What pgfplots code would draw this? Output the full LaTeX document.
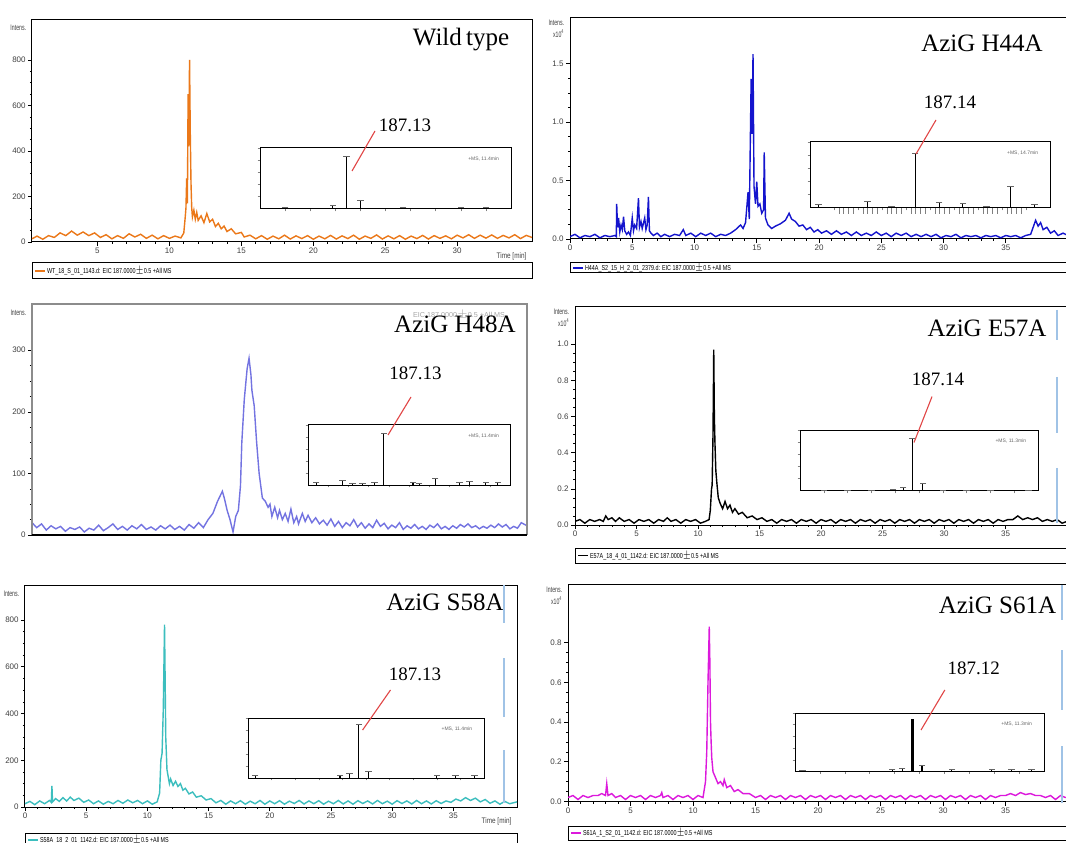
\documentclass[border=0pt]{standalone}
\usepackage{fontspec}
\setmainfont{Liberation Serif}
\setsansfont{Liberation Sans}
\usepackage{pgfplots}
\pgfplotsset{compat=1.18}

\definecolor{cOrange}{RGB}{235,120,25}
\definecolor{cBlue}{RGB}{20,20,205}
\definecolor{cSlate}{RGB}{115,115,225}
\definecolor{cTeal}{RGB}{60,190,190}
\definecolor{cMag}{RGB}{220,25,220}
\definecolor{cRed}{RGB}{225,70,70}
\definecolor{cLine}{RGB}{160,195,230}

\newcommand\ttl{\fontsize{12.5}{14}\selectfont}
\newcommand\mz{\fontsize{9.5}{11}\selectfont}
\newcommand\tkl{\fontsize{4}{4}\selectfont\sffamily}
\newcommand\lgd{\fontsize{3.6}{4}\selectfont\sffamily}

\tikzset{intens/.style={font=\tkl, text=black!75, anchor=east, xscale=0.65, inner sep=0.5pt}}

\pgfplotsset{
  chrom/.style={
    scale only axis, anchor=south west, clip mode=individual,
    axis line style={black, line width=0.5pt},
    tick align=outside, xtick pos=bottom, ytick pos=left,
    major tick length=2pt, minor tick length=1pt,
    every tick/.append style={black, line width=0.3pt},
    tick label style={font=\tkl, text=black!75},
    xticklabel style={inner sep=1pt},
    yticklabel style={inner sep=1pt},
    minor x tick num=4, minor y tick num=3,
    /pgf/number format/assume math mode=true,
    scaled y ticks=false,
  },
  sci/.style={yticklabel style={/pgf/number format/.cd, fixed, fixed zerofill, precision=1}},
  inset/.style={
    scale only axis, anchor=south west, clip=false,
    xmin=0, xmax=1, ymin=0, ymax=1,
    axis line style={black, line width=0.5pt},
    axis background/.style={fill=white},
    tick align=outside, xtick pos=bottom, ytick pos=left,
    xtick={0.1,0.2,0.3,0.4,0.5,0.6,0.7,0.8,0.9}, ytick={0.2,0.4,0.6,0.8,1.0},
    xticklabels={}, yticklabels={},
    major tick length=1.2pt, every tick/.append style={line width=0.3pt},
  },
  stick/.style={ycomb, black, line width=0.55pt, mark=-, mark size=1.6pt,
    mark options={line width=0.3pt, black!60}},
}

\begin{document}
\begin{tikzpicture}[x=0.5pt, y=0.5pt]
\path[use as bounding box, fill=white] (0,0) rectangle (1066,842);

% ---------------- Wild type ----------------
\begin{axis}[chrom, at={(16pt,300pt)}, width=250pt, height=111.5pt,
  xmin=0.45, xmax=35.2, ymin=0, ymax=980,
  xtick={5,10,15,20,25,30}, ytick={0,200,400,600,800}]
\addplot[cOrange, line width=0.7pt] coordinates {
(0.45,14)(0.8,26)(1.2,12)(1.6,28)(2.0,20)(2.4,40)(2.8,28)(3.2,48)(3.6,30)(4.0,44)
(4.4,28)(4.8,40)(5.2,20)(5.6,32)(6.0,14)(6.4,28)(6.8,16)(7.2,36)(7.6,22)(8.0,34)
(8.4,16)(8.8,30)(9.2,14)(9.6,28)(10.0,16)(10.4,26)(10.8,18)(11.0,40)(11.1,110)(11.15,150)
(11.2,280)(11.25,170)(11.3,650)(11.34,420)(11.4,800)(11.45,480)(11.5,260)(11.55,150)(11.6,110)(11.7,140)
(11.8,100)(11.9,130)(12.0,95)(12.2,115)(12.4,85)(12.6,125)(12.8,88)(13.0,100)(13.2,68)(13.4,82)
(13.6,58)(13.8,70)(14.0,46)(14.3,58)(14.6,36)(15.0,42)(15.2,22)(15.6,30)(16.0,14)(16.4,28)
(16.8,12)(17.2,26)(17.6,14)(18.0,30)(18.4,13)(18.8,27)(19.2,15)(19.6,28)(20.0,12)(20.4,26)
(20.8,14)(21.2,29)(21.6,13)(22.0,27)(22.4,15)(22.8,30)(23.2,12)(23.6,26)(24.0,16)(24.4,31)
(24.8,13)(25.2,27)(25.6,14)(26.0,28)(26.4,12)(26.8,26)(27.2,15)(27.6,29)(28.0,13)(28.4,28)
(28.8,16)(29.2,27)(29.6,14)(30.0,30)(30.4,18)(30.8,32)(31.2,16)(31.6,30)(32.0,17)(32.4,31)
(32.8,16)(33.2,29)(33.6,18)(34.0,32)(34.4,15)(34.8,29)(35.2,20)};
\node[intens] at (rel axis cs:-0.01,0.96) {Intens.};
\node[font=\tkl, anchor=north east, text=black!75, xscale=0.8] at (rel axis cs:1,-0.015) {Time [min]};
\end{axis}
\begin{axis}[inset, at={(130pt,316.5pt)}, width=125.5pt, height=30.5pt]
\addplot[stick] coordinates {(0.10,0.02)(0.29,0.06)(0.345,0.87)(0.40,0.15)(0.57,0.02)(0.80,0.02)(0.90,0.03)};
\node[font=\fontsize{2.5}{3}\selectfont\sffamily, anchor=north east, text=black!60] at (rel axis cs:0.98,0.97) {+MS, 11.4min};
\end{axis}

% ---------------- H44A ----------------
\begin{axis}[chrom, sci, at={(285pt,301.5pt)}, width=249pt, height=110.5pt,
  xmin=0, xmax=40, ymin=0, ymax=1.89,
  xtick={0,5,...,35}, ytick={0,0.5,1.0,1.5}]
\addplot[cBlue, line width=0.7pt] coordinates {
(0.0,0.02)(0.4,0.04)(0.8,0.01)(1.2,0.03)(1.6,0.02)(2.0,0.04)(2.4,0.01)(2.8,0.03)(3.2,0.02)(3.6,0.03)
(3.72,0.02)(3.75,0.30)(3.82,0.10)(3.9,0.18)(4.0,0.06)(4.1,0.12)(4.2,0.08)(4.3,0.19)(4.4,0.07)(4.55,0.04)
(4.7,0.06)(4.85,0.03)(5.0,0.18)(5.1,0.07)(5.2,0.12)(5.35,0.09)(5.5,0.35)(5.58,0.10)(5.7,0.15)(5.8,0.09)
(6.0,0.18)(6.1,0.08)(6.2,0.12)(6.3,0.36)(6.38,0.07)(6.5,0.05)(6.7,0.03)(7.0,0.05)(7.3,0.02)(7.6,0.04)
(8.0,0.02)(8.4,0.04)(8.8,0.03)(9.1,0.08)(9.3,0.03)(9.7,0.05)(10.1,0.02)(10.5,0.05)(10.9,0.03)(11.3,0.05)
(11.7,0.02)(12.1,0.04)(12.5,0.03)(12.9,0.05)(13.3,0.08)(13.7,0.12)(13.9,0.09)(14.1,0.14)(14.3,0.40)(14.4,0.17)
(14.55,1.37)(14.62,0.90)(14.7,1.58)(14.78,0.45)(14.9,0.30)(15.0,0.49)(15.1,0.28)(15.25,0.30)(15.4,0.22)(15.55,0.25)
(15.6,0.74)(15.7,0.18)(15.9,0.12)(16.2,0.09)(16.5,0.11)(16.9,0.13)(17.3,0.16)(17.6,0.22)(17.8,0.17)(18.1,0.15)
(18.4,0.11)(18.7,0.12)(19.0,0.08)(19.3,0.10)(19.6,0.06)(19.9,0.08)(20.2,0.05)(20.6,0.07)(21.0,0.04)(21.4,0.07)
(21.8,0.04)(22.2,0.06)(22.6,0.03)(23.0,0.06)(23.4,0.03)(23.8,0.05)(24.2,0.03)(24.6,0.06)(25.0,0.03)(25.4,0.05)
(25.8,0.02)(26.2,0.05)(26.6,0.03)(27.0,0.05)(27.4,0.02)(27.8,0.04)(28.2,0.02)(28.6,0.04)(29.0,0.02)(29.4,0.04)
(29.8,0.01)(30.2,0.03)(30.6,0.02)(31.0,0.04)(31.4,0.01)(31.8,0.03)(32.2,0.02)(32.6,0.03)(33.0,0.01)(33.4,0.03)
(33.8,0.02)(34.2,0.03)(34.6,0.01)(35.0,0.03)(35.4,0.02)(35.8,0.03)(36.2,0.01)(36.6,0.03)(37.0,0.04)(37.2,0.10)
(37.4,0.16)(37.6,0.11)(37.8,0.14)(38.0,0.08)(38.3,0.10)(38.6,0.05)(38.9,0.07)(39.2,0.03)(39.6,0.05)(40.0,0.03)};
\node[intens] at (rel axis cs:-0.01,0.98) {Intens.};
\node[intens] at (rel axis cs:-0.01,0.93) {x10\textsuperscript{4}};
\end{axis}
\begin{axis}[inset, at={(405pt,317pt)}, width=120pt, height=33pt, minor x tick num=4]
\addplot[stick] coordinates {(0.036,0.05)(0.239,0.10)(0.34,0.02)(0.438,0.83)(0.538,0.09)(0.637,0.07)(0.735,0.02)(0.836,0.33)(0.936,0.06)};
\node[font=\fontsize{2.5}{3}\selectfont\sffamily, anchor=north east, text=black!60] at (rel axis cs:0.98,0.97) {+MS, 14.7min};
\end{axis}

% ---------------- H48A ----------------
\begin{axis}[chrom, at={(16pt,153.5pt)}, width=247.5pt, height=115.5pt,
  xmin=0, xmax=26, ymin=0, ymax=375, axis line style={draw=none},
  xtick=\empty, ytick={0,100,200,300}]
\addplot[cSlate, line width=0.7pt] coordinates {
(0,20)(0.25,12)(0.5,18)(0.75,8)(1.0,15)(1.25,10)(1.5,14)(1.75,6)(2.0,12)(2.25,9)
(2.5,13)(2.75,5)(3.0,11)(3.25,8)(3.5,16)(3.75,7)(4.0,12)(4.25,18)(4.5,9)(4.75,14)
(5.0,8)(5.25,15)(5.5,10)(5.75,17)(6.0,9)(6.25,13)(6.5,8)(6.75,15)(7.0,10)(7.25,16)
(7.5,9)(7.75,14)(8.0,8)(8.25,17)(8.5,11)(8.75,20)(9.0,12)(9.25,25)(9.5,35)(9.75,55)
(10.0,71)(10.1,60)(10.25,40)(10.4,25)(10.56,5)(10.7,30)(10.84,40)(10.95,80)(11.02,150)(11.15,220)
(11.3,270)(11.4,287)(11.5,260)(11.55,235)(11.67,210)(11.8,150)(11.93,100)(12.1,60)(12.25,55)(12.4,45)
(12.5,50)(12.6,30)(12.75,45)(12.9,28)(13.0,40)(13.15,25)(13.3,35)(13.45,22)(13.6,42)(13.75,20)
(13.9,30)(14.0,18)(14.2,35)(14.35,22)(14.5,32)(14.7,20)(14.9,28)(15.1,18)(15.3,24)(15.5,16)
(15.7,26)(15.9,14)(16.1,22)(16.3,12)(16.5,20)(16.7,15)(16.9,25)(17.1,13)(17.3,20)(17.5,11)
(17.7,18)(17.9,12)(18.1,24)(18.3,14)(18.5,19)(18.7,10)(18.9,16)(19.1,12)(19.3,20)(19.5,9)
(19.7,15)(19.9,11)(20.1,17)(20.3,10)(20.5,14)(20.7,9)(20.9,16)(21.1,12)(21.3,18)(21.5,10)
(21.7,14)(21.9,9)(22.1,15)(22.3,11)(22.5,17)(22.7,13)(22.9,18)(23.1,12)(23.3,15)(23.5,10)
(23.7,14)(23.9,11)(24.1,16)(24.3,12)(24.5,18)(24.7,13)(24.9,17)(25.1,10)(25.3,14)(25.5,11)
(25.7,20)(26.0,15)};
\draw[black!45, line width=1pt] (rel axis cs:0,0) -- (rel axis cs:0,1) -- (rel axis cs:1,1) -- (rel axis cs:1,0);
\draw[black, line width=1.3pt] (rel axis cs:0,0) -- (rel axis cs:1,0);
\node[intens] at (rel axis cs:-0.01,0.96) {Intens.};
\end{axis}
\begin{axis}[inset, at={(154pt,178.5pt)}, width=101pt, height=30pt]
\addplot[stick] coordinates {(0.04,0.04)(0.17,0.08)(0.22,0.03)(0.27,0.03)(0.33,0.04)(0.375,0.86)(0.52,0.05)(0.55,0.03)(0.63,0.12)(0.75,0.04)(0.80,0.06)(0.88,0.04)(0.94,0.04)};
\node[font=\fontsize{2.5}{3}\selectfont\sffamily, anchor=north east, text=black!60] at (rel axis cs:0.98,0.97) {+MS, 11.4min};
\end{axis}

% ---------------- E57A ----------------
\begin{axis}[chrom, sci, at={(287.5pt,158.5pt)}, width=246pt, height=109pt,
  xmin=0, xmax=40, ymin=0, ymax=1.205,
  xtick={0,5,...,35}, ytick={0,0.2,0.4,0.6,0.8,1.0}]
\addplot[black, line width=0.7pt] coordinates {
(0.0,0.02)(0.4,0.03)(0.8,0.01)(1.2,0.03)(1.6,0.02)(2.0,0.03)(2.3,0.02)(2.5,0.05)(2.7,0.03)(3.0,0.04)
(3.3,0.02)(3.6,0.04)(4.0,0.02)(4.4,0.03)(4.8,0.01)(5.2,0.03)(5.6,0.02)(6.0,0.03)(6.4,0.01)(6.8,0.03)
(7.2,0.02)(7.5,0.04)(7.8,0.02)(8.2,0.03)(8.6,0.01)(9.0,0.03)(9.4,0.02)(9.8,0.03)(10.2,0.01)(10.6,0.02)
(10.9,0.03)(11.0,0.08)(11.1,0.20)(11.15,0.22)(11.22,0.50)(11.28,0.97)(11.33,0.60)(11.38,0.45)(11.45,0.30)(11.55,0.22)
(11.65,0.15)(11.8,0.12)(12.0,0.09)(12.2,0.13)(12.4,0.09)(12.6,0.11)(12.8,0.07)(13.0,0.09)(13.3,0.06)(13.6,0.07)
(14.0,0.04)(14.4,0.05)(14.8,0.03)(15.2,0.04)(15.6,0.02)(16.0,0.03)(16.4,0.01)(16.8,0.03)(17.2,0.02)(17.6,0.03)
(18.0,0.01)(18.4,0.03)(18.8,0.02)(19.2,0.03)(19.6,0.01)(20.0,0.03)(20.4,0.02)(20.8,0.03)(21.2,0.01)(21.6,0.03)
(22.0,0.02)(22.4,0.03)(22.8,0.01)(23.2,0.03)(23.6,0.02)(24.0,0.03)(24.4,0.01)(24.8,0.03)(25.2,0.02)(25.6,0.03)
(26.0,0.01)(26.4,0.03)(26.8,0.02)(27.2,0.03)(27.6,0.01)(28.0,0.03)(28.4,0.02)(28.8,0.03)(29.2,0.01)(29.6,0.03)
(30.0,0.02)(30.4,0.03)(30.8,0.01)(31.2,0.03)(31.6,0.02)(32.0,0.03)(32.4,0.01)(32.8,0.03)(33.2,0.02)(33.6,0.03)
(34.0,0.01)(34.4,0.03)(34.8,0.02)(35.2,0.03)(35.6,0.03)(36.0,0.05)(36.4,0.03)(36.8,0.04)(37.2,0.03)(37.6,0.04)
(38.0,0.02)(38.4,0.03)(38.8,0.02)(39.2,0.03)(39.6,0.01)(40.0,0.02)};
\node[intens] at (rel axis cs:-0.01,0.98) {Intens.};
\node[intens] at (rel axis cs:-0.01,0.93) {x10\textsuperscript{4}};
\end{axis}
\begin{axis}[inset, at={(400pt,175.5pt)}, width=119pt, height=30.5pt]
\addplot[stick] coordinates {(0.1,0.01)(0.2,0.01)(0.3,0.01)(0.39,0.02)(0.433,0.06)(0.473,0.86)(0.516,0.12)(0.6,0.01)(0.7,0.01)(0.8,0.01)(0.96,0.01)};
\node[font=\fontsize{2.5}{3}\selectfont\sffamily, anchor=north east, text=black!60] at (rel axis cs:0.98,0.97) {+MS, 11.3min};
\end{axis}

% ---------------- S58A ----------------
\begin{axis}[chrom, at={(12.5pt,17.5pt)}, width=246pt, height=111pt,
  xmin=0, xmax=40.2, ymin=0, ymax=950,
  xtick={0,5,...,35}, ytick={0,200,400,600,800}]
\addplot[cTeal, line width=0.7pt] coordinates {
(0.0,14)(0.4,24)(0.8,10)(1.2,26)(1.6,14)(2.0,28)(2.15,20)(2.2,90)(2.25,22)(2.5,36)
(2.8,24)(3.1,40)(3.4,26)(3.7,42)(4.0,28)(4.4,38)(4.8,20)(5.2,30)(5.6,14)(6.0,26)
(6.4,12)(6.8,24)(7.2,14)(7.6,28)(8.0,16)(8.4,30)(8.8,18)(9.2,28)(9.6,14)(10.0,26)
(10.4,12)(10.8,22)(11.0,60)(11.1,200)(11.2,230)(11.3,420)(11.4,780)(11.45,550)(11.5,300)(11.6,160)
(11.7,130)(11.8,100)(11.9,120)(12.1,92)(12.3,110)(12.5,88)(12.7,100)(12.9,72)(13.1,80)(13.4,56)
(13.7,64)(14.0,42)(14.4,48)(14.8,30)(15.2,36)(15.6,18)(16.0,28)(16.4,12)(16.8,26)(17.2,14)
(17.6,27)(18.0,12)(18.4,25)(18.8,14)(19.2,28)(19.6,12)(20.0,26)(20.4,14)(20.8,27)(21.2,12)
(21.6,25)(22.0,15)(22.4,28)(22.8,13)(23.2,26)(23.6,14)(24.0,27)(24.4,12)(24.8,25)(25.2,14)
(25.6,28)(26.0,13)(26.4,26)(26.8,12)(27.2,27)(27.6,15)(28.0,26)(28.4,13)(28.8,28)(29.2,14)
(29.6,25)(30.0,12)(30.4,27)(30.8,15)(31.2,26)(31.6,13)(32.0,28)(32.4,14)(32.8,26)(33.2,13)
(33.6,27)(34.0,15)(34.4,26)(34.8,20)(35.2,34)(35.6,26)(36.0,40)(36.4,28)(36.8,38)(37.2,22)
(37.6,32)(38.0,16)(38.4,26)(38.8,12)(39.2,24)(39.6,14)(40.2,22)};
\node[intens] at (rel axis cs:-0.01,0.96) {Intens.};
\node[font=\tkl, anchor=north east, text=black!75, xscale=0.8] at (rel axis cs:1,-0.015) {Time [min]};
\end{axis}
\begin{axis}[inset, at={(124pt,32pt)}, width=118pt, height=30pt]
\addplot[stick] coordinates {(0.03,0.05)(0.39,0.04)(0.43,0.08)(0.47,0.89)(0.51,0.12)(0.80,0.05)(0.88,0.05)(0.96,0.05)};
\node[font=\fontsize{2.5}{3}\selectfont\sffamily, anchor=north east, text=black!60] at (rel axis cs:0.98,0.97) {+MS, 11.4min};
\end{axis}

% ---------------- S61A ----------------
\begin{axis}[chrom, sci, at={(284pt,20.25pt)}, width=250pt, height=108.25pt,
  xmin=0, xmax=40, ymin=0, ymax=1.09,
  xtick={0,5,...,35}, ytick={0,0.2,0.4,0.6,0.8}]
\addplot[cMag, line width=0.7pt] coordinates {
(0.0,0.02)(0.4,0.03)(0.8,0.01)(1.2,0.03)(1.6,0.02)(2.0,0.03)(2.4,0.03)(2.7,0.04)(3.0,0.03)(3.1,0.09)
(3.2,0.03)(3.5,0.04)(3.8,0.02)(4.2,0.03)(4.6,0.01)(5.0,0.03)(5.4,0.02)(5.8,0.03)(6.2,0.01)(6.6,0.03)
(7.0,0.02)(7.4,0.03)(7.5,0.045)(7.6,0.02)(8.0,0.03)(8.4,0.01)(8.8,0.03)(9.2,0.02)(9.6,0.03)(10.0,0.01)
(10.4,0.03)(10.8,0.02)(11.0,0.10)(11.1,0.25)(11.2,0.60)(11.3,0.88)(11.35,0.70)(11.4,0.40)(11.45,0.30)(11.5,0.22)
(11.6,0.15)(11.8,0.12)(12.0,0.09)(12.2,0.10)(12.4,0.08)(12.5,0.11)(12.7,0.07)(13.0,0.08)(13.3,0.05)(13.6,0.06)
(14.0,0.04)(14.5,0.04)(15.0,0.02)(15.4,0.03)(15.8,0.01)(16.2,0.03)(16.6,0.02)(17.0,0.03)(17.4,0.01)(17.8,0.03)
(18.2,0.02)(18.6,0.03)(19.0,0.01)(19.4,0.03)(19.8,0.02)(20.2,0.03)(20.6,0.01)(21.0,0.03)(21.4,0.02)(21.8,0.03)
(22.2,0.01)(22.6,0.03)(23.0,0.02)(23.4,0.03)(23.8,0.01)(24.2,0.03)(24.6,0.02)(25.0,0.03)(25.4,0.01)(25.8,0.03)
(26.2,0.02)(26.6,0.03)(27.0,0.01)(27.4,0.03)(27.8,0.02)(28.2,0.03)(28.6,0.01)(29.0,0.03)(29.4,0.02)(29.8,0.03)
(30.2,0.01)(30.6,0.03)(31.0,0.02)(31.4,0.03)(31.8,0.01)(32.2,0.03)(32.6,0.02)(33.0,0.03)(33.4,0.01)(33.8,0.03)
(34.2,0.02)(34.6,0.03)(35.0,0.03)(35.4,0.04)(35.8,0.03)(36.2,0.045)(36.6,0.035)(37.0,0.04)(37.4,0.03)(37.8,0.03)
(38.2,0.02)(38.6,0.03)(39.0,0.01)(39.4,0.03)(39.8,0.02)(40.0,0.02)};
\node[intens] at (rel axis cs:-0.01,0.98) {Intens.};
\node[intens] at (rel axis cs:-0.01,0.93) {x10\textsuperscript{4}};
\end{axis}
\begin{axis}[inset, at={(397.5pt,35.25pt)}, width=124.5pt, height=29.25pt]
\addplot[stick] coordinates {(0.03,0.02)(0.39,0.04)(0.43,0.06)(0.51,0.10)(0.63,0.03)(0.79,0.03)(0.87,0.03)(0.95,0.03)};
\addplot[ycomb, black, line width=1.4pt] coordinates {(0.471,0.89)};
\node[font=\fontsize{2.5}{3}\selectfont\sffamily, anchor=north east, text=black!60] at (rel axis cs:0.98,0.97) {+MS, 11.3min};
\end{axis}

% ---------------- titles, m/z labels, pointers ----------------
\node[font=\ttl] at (461,802) {Wild\,type};
\node[font=\ttl] at (982,799) {AziG H44A};
\node[font=\lgd, text=black!35, anchor=east] at (512,527) {EIC 187.0000$\pm$0.5 +All MS};
\node[font=\ttl, inner sep=0.5pt] at (455,518) {AziG H48A};
\node[font=\ttl] at (987,514) {AziG E57A};
\node[font=\ttl] at (445,240) {AziG S58A};
\node[font=\ttl] at (997.5,237) {AziG S61A};

\node[font=\mz] at (405,717) {187.13};
\node[font=\mz] at (950,740) {187.14};
\node[font=\mz] at (415.5,469) {187.13};
\node[font=\mz] at (938,463) {187.14};
\node[font=\mz] at (415,168) {187.13};
\node[font=\mz] at (973.7,174) {187.12};
\draw[cRed, line width=0.55pt] (352,671) -- (375,711);
\draw[cRed, line width=0.55pt] (916,688) -- (936,722);
\draw[cRed, line width=0.55pt] (388,407) -- (411,445);
\draw[cRed, line width=0.55pt] (914,399.5) -- (932,445.4);
\draw[cRed, line width=0.55pt] (362.6,112) -- (390.5,152);
\draw[cRed, line width=0.55pt] (921,112) -- (944.8,152);

% ---------------- legend boxes ----------------
\draw[line width=0.5pt] (32,563) rectangle (532,579);
\draw[cOrange, line width=0.6pt] (35,571) -- (45,571);
\node[font=\lgd, anchor=west, inner sep=0.5pt, xscale=0.75] at (46,571) {WT\_18\_S\_01\_1143.d: EIC 187.0000$\pm$0.5 +All MS};
\draw[line width=0.5pt] (570,569) rectangle (1070,579);
\draw[cBlue, line width=0.6pt] (573,574) -- (583,574);
\node[font=\lgd, anchor=west, inner sep=0.5pt, xscale=0.75] at (584,574) {H44A\_S2\_15\_H\_2\_01\_2379.d: EIC 187.0000$\pm$0.5 +All MS};
\draw[line width=0.5pt] (575,279) rectangle (1070,294);
\draw[black, line width=0.6pt] (578,286.5) -- (588,286.5);
\node[font=\lgd, anchor=west, inner sep=0.5pt, xscale=0.75] at (589,286.5) {E57A\_18\_4\_01\_1142.d: EIC 187.0000$\pm$0.5 +All MS};
\draw[line width=0.5pt] (25,-5) rectangle (517,9);
\draw[cTeal, line width=0.6pt] (28,2) -- (38,2);
\node[font=\lgd, anchor=west, inner sep=0.5pt, xscale=0.75] at (39,2) {S58A\_18\_2\_01\_1142.d: EIC 187.0000$\pm$0.5 +All MS};
\draw[line width=0.5pt] (568,2) rectangle (1070,15.5);
\draw[cMag, line width=0.6pt] (571,9) -- (581,9);
\node[font=\lgd, anchor=west, inner sep=0.5pt, xscale=0.75] at (582,9) {S61A\_1\_S2\_01\_1142.d: EIC 187.0000$\pm$0.5 +All MS};

% ---------------- faint vertical marks ----------------
\foreach \xx/\ya/\yb in {1057/532/502, 1057/465/409, 1057/374/319,
  504/257/219, 504/184/125, 504/92/39,
  1062/257/222, 1062/192/132, 1062/96/39}
  \draw[cLine, line width=0.6pt] (\xx,\ya) -- (\xx,\yb);
\end{tikzpicture}
\end{document}
